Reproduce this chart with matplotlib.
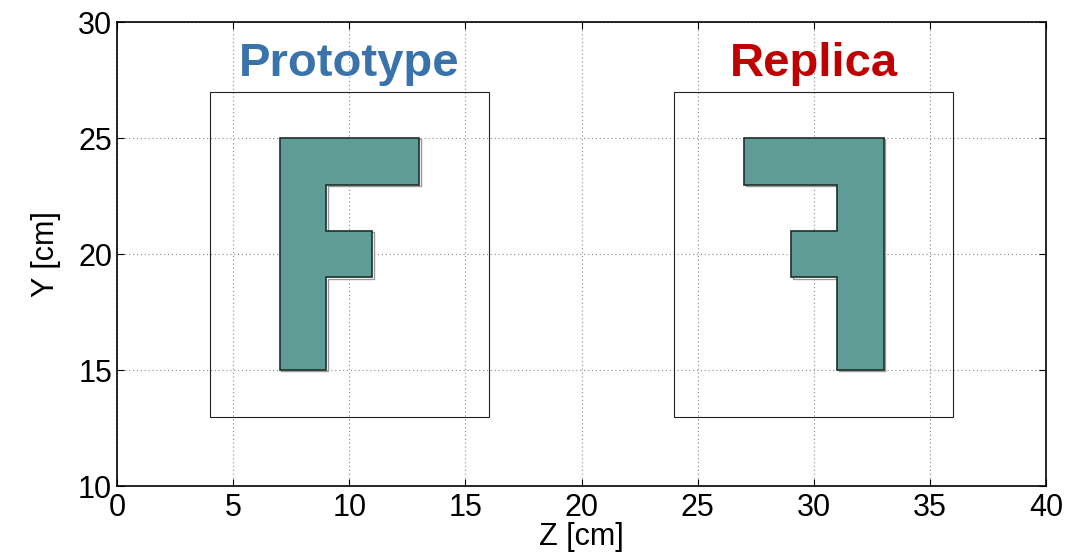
import matplotlib.pyplot as plt
from matplotlib.patches import Polygon, Rectangle

plt.rcParams['font.family'] = ['Liberation Sans', 'DejaVu Sans']

# outline of the "F" (prototype) and its mirror image (replica), in cm
proto_z = [7, 7, 13, 13, 9, 9, 11, 11, 9, 9]
proto_y = [15, 25, 25, 23, 23, 21, 21, 19, 19, 15]
replica_z = [33, 33, 27, 27, 31, 31, 29, 29, 31, 31]
replica_y = [15, 25, 25, 23, 23, 21, 21, 19, 19, 15]

# bounding frames: (z0, y0, width, height)
frames = [(4, 13, 12, 14), (24, 13, 12, 14)]
labels = ['Prototype', 'Replica']
label_z = [10, 30]
label_colors = ['#3a72ab', '#c00000']

fig = plt.figure(figsize=(10.83, 5.55), dpi=100)
ax = fig.add_axes([0.108, 0.124, 0.858, 0.836])

for zs, ys in [(proto_z, proto_y), (replica_z, replica_y)]:
    pts = list(zip(zs, ys))
    shadow = [(z + 0.08, y - 0.05) for z, y in pts]
    ax.add_patch(Polygon(shadow, closed=True, facecolor='none',
                         edgecolor='#999999', lw=1.0, zorder=3))
    ax.add_patch(Polygon(pts, closed=True, facecolor='#5f9c95',
                         edgecolor='#1e2f2c', lw=1.2, zorder=4))

for z0, y0, w, h in frames:
    ax.add_patch(Rectangle((z0, y0), w, h, facecolor='none',
                           edgecolor='#222222', lw=0.8, zorder=2))

for txt, z, c in zip(labels, label_z, label_colors):
    ax.text(z, 28.2, txt, color=c, fontsize=34, fontweight='bold',
            ha='center', va='center', zorder=5)

ax.set_xlim(0, 40)
ax.set_ylim(10, 30)
ax.set_xticks(range(0, 41, 5))
ax.set_yticks(range(10, 31, 5))
ax.tick_params(direction='in', length=5, labelsize=22, top=True, right=True)
ax.tick_params(axis='x', pad=5)
ax.grid(True, linestyle=(0, (1, 2.5)), color='#888888', lw=0.8)
ax.set_axisbelow(True)
for s in ax.spines.values():
    s.set_linewidth(1.2)
ax.set_xlabel('Z [cm]', fontsize=22, labelpad=-1)
ax.set_ylabel('Y [cm]', fontsize=22, labelpad=12)

fig.savefig('out.png', dpi=100)
